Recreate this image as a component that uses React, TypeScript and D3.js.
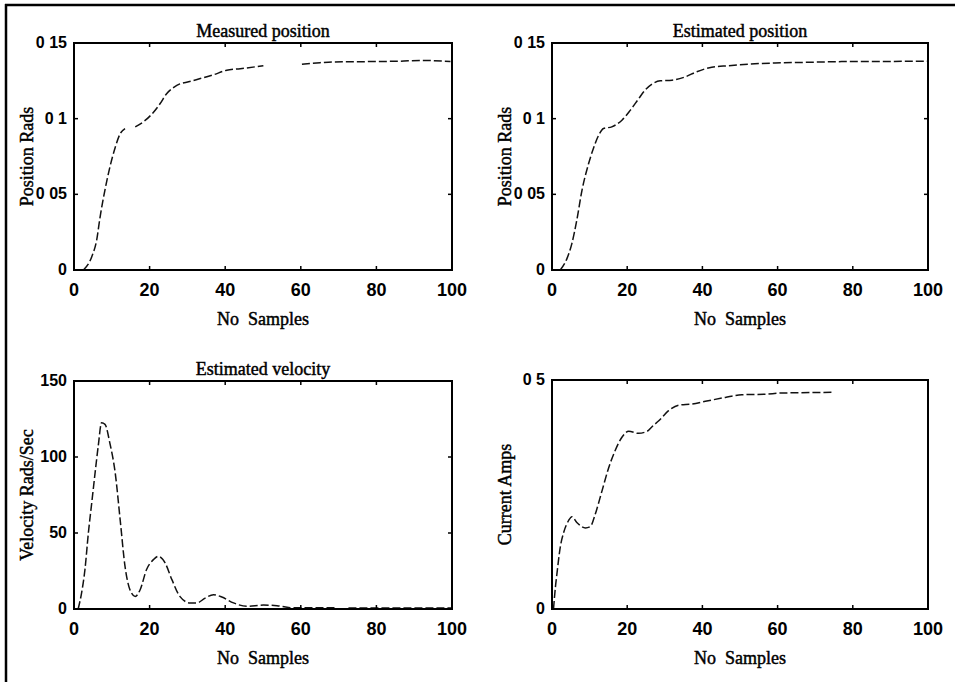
import React from 'react';
import * as d3 from 'd3';

// ---------- data ----------
const xTickValues = [0, 20, 40, 60, 80, 100];
const xTickLabels = ['0', '20', '40', '60', '80', '100'];

const posTickValues = [0, 0.05, 0.1, 0.15];
const posTickLabels = ['0', '0 05', '0 1', '0 15'];

const velTickValues = [0, 50, 100, 150];
const velTickLabels = ['0', '50', '100', '150'];

const curTickValues = [0, 0.5];
const curTickLabels = ['0', '0 5'];

const measuredX = [2.5, 4.7, 6, 6.9, 8.2, 9.5, 10.9, 12.2, 13.5, 14.8, 16.2, 18.4, 20.6, 22.8, 24.5, 26.3, 28, 29.8, 33.4, 36.9, 40.4, 44, 50.1, 55, 60.3, 65.1, 68.7, 77.5, 86.3, 91.6, 99.6];
const measuredY: (number | null)[] = [0, 0.0088, 0.0198, 0.035, 0.053, 0.068, 0.081, 0.09, 0.0935, null, 0.0946, 0.098, 0.103, 0.11, 0.1165, 0.1205, 0.123, 0.124, 0.1265, 0.129, 0.132, 0.133, 0.135, null, 0.136, 0.137, 0.1375, 0.1377, 0.138, 0.1385, 0.1377];

const estimatedX = [2.2, 4, 5.3, 6.6, 8, 9.7, 11.1, 12.4, 13.7, 15.9, 18.6, 20.8, 23, 24.8, 26.5, 28.8, 31.9, 35.4, 38.5, 42.5, 46.9, 52.2, 59.3, 67.3, 77, 100];
const estimatedY = [0, 0.0077, 0.0176, 0.033, 0.053, 0.07, 0.081, 0.089, 0.0935, 0.0946, 0.099, 0.1055, 0.113, 0.119, 0.1227, 0.125, 0.1254, 0.1276, 0.131, 0.134, 0.135, 0.136, 0.1368, 0.1372, 0.1377, 0.1379];

const velocityX = [1.1, 2, 2.9, 3.8, 4.7, 5.6, 6.4, 7.3, 8.2, 9.5, 10.9, 12.2, 13.5, 14.8, 16.2, 17.5, 19.2, 21, 22.3, 24.1, 25.9, 28, 30.7, 32.5, 34.7, 36.9, 39.1, 42.2, 45.7, 50.1, 53.7, 57.2, 61.6, 69.5, 71, 72.6, 100];
const velocityY: (number | null)[] = [0, 10.5, 26, 50, 70, 90, 107, 122.5, 121.5, 109, 89.6, 59, 28, 12.7, 8.3, 12.7, 26, 32.5, 34.7, 30.3, 19.3, 8.3, 4, 4, 7.2, 9.4, 7.9, 4, 1.8, 2.6, 2.2, 0.9, 0.9, 0.9, null, 0.6, 0.6];

const currentX = [0.4, 0.9, 1.3, 2.2, 3.1, 4.4, 5.3, 6.6, 8.9, 10.2, 11.5, 13.3, 15.1, 16.8, 18.6, 20.4, 23, 25.3, 26.6, 28.4, 31, 33.7, 37.2, 40.8, 46.1, 50.5, 56.7, 61.2, 74.5];
const currentY = [0, 0.047, 0.076, 0.135, 0.167, 0.193, 0.2016, 0.189, 0.177, 0.18, 0.207, 0.258, 0.309, 0.346, 0.375, 0.388, 0.3835, 0.388, 0.398, 0.411, 0.433, 0.445, 0.4476, 0.4534, 0.462, 0.4677, 0.469, 0.4716, 0.473];

const SERIF = "'Liberation Serif', 'Times New Roman', serif";
const TICKFONT = "'Liberation Sans Narrow', 'Liberation Sans', Arial, sans-serif";

type PanelProps = {
  left: number; right: number; top: number; bottom: number;
  yDomain: [number, number];
  yTicks: number[]; yLabels: string[];
  title?: string; ylabel: string;
  xs: number[]; ys: (number | null)[];
};

function Panel(p: PanelProps) {
  const x = d3.scaleLinear().domain([0, 100]).range([p.left, p.right]);
  const y = d3.scaleLinear().domain(p.yDomain).range([p.bottom, p.top]);
  const pts = p.xs.map((v, i) => [v, p.ys[i]] as [number, number | null]);
  const line = d3.line<[number, number | null]>()
    .defined(d => d[1] !== null)
    .x(d => x(d[0]))
    .y(d => y(d[1] as number))
    .curve(d3.curveMonotoneX);
  const tl = 4;
  const cx = (p.left + p.right) / 2;
  const cy = (p.top + p.bottom) / 2;
  const serifStyle = { stroke: '#000', strokeWidth: 0.45 };
  return (
    <g>
      <path d={line(pts) || ''} fill="none" stroke="#111" strokeWidth={1.5} strokeDasharray="8,3" />
      <rect x={p.left} y={p.top} width={p.right - p.left} height={p.bottom - p.top} fill="none" stroke="#000" strokeWidth={2} />
      {xTickValues.slice(1, -1).map(v => (
        <g key={'xt' + v}>
          <line x1={x(v)} x2={x(v)} y1={p.bottom} y2={p.bottom - tl} stroke="#000" strokeWidth={1.5} />
          <line x1={x(v)} x2={x(v)} y1={p.top} y2={p.top + tl} stroke="#000" strokeWidth={1.5} />
        </g>
      ))}
      {p.yTicks.slice(1, -1).map(v => (
        <g key={'yt' + v}>
          <line x1={p.left} x2={p.left + tl} y1={y(v)} y2={y(v)} stroke="#000" strokeWidth={1.5} />
          <line x1={p.right} x2={p.right - tl} y1={y(v)} y2={y(v)} stroke="#000" strokeWidth={1.5} />
        </g>
      ))}
      {xTickValues.map((v, i) => (
        <text key={'xl' + v} x={x(v)} y={p.bottom + 26} textAnchor="middle" fontFamily={TICKFONT} fontWeight="bold" fontSize={18} fill="#000">{xTickLabels[i]}</text>
      ))}
      {p.yTicks.map((v, i) => (
        <text key={'yl' + v} x={p.left - 7} y={y(v) + 5} textAnchor="end" fontFamily={TICKFONT} fontWeight="bold" fontSize={16} fill="#000" style={{ whiteSpace: 'pre' }}>{p.yLabels[i]}</text>
      ))}
      {p.title && (
        <text x={cx} y={p.top - 6} textAnchor="middle" fontFamily={SERIF} fontSize={18} fill="#000" style={serifStyle}>{p.title}</text>
      )}
      <text x={cx} y={p.bottom + 55} textAnchor="middle" fontFamily={SERIF} fontSize={18} fill="#000" style={{ ...serifStyle, whiteSpace: 'pre' }}>{'No  Samples'}</text>
      <text transform={`translate(${p.left - 41},${cy}) rotate(-90)`} textAnchor="middle" fontFamily={SERIF} fontSize={18} fill="#000" style={serifStyle}>{p.ylabel}</text>
    </g>
  );
}

export default function App() {
  return (
    <svg width={955} height={682} style={{ position: 'absolute', left: 0, top: 0, background: '#fff' }}>
      <rect x={0} y={0} width={955} height={682} fill="#fff" />
      <line x1={5} x2={955} y1={5} y2={5} stroke="#000" strokeWidth={2.5} />
      <line x1={6} x2={6} y1={4} y2={682} stroke="#000" strokeWidth={2.5} />
      <Panel left={74} right={452} top={43} bottom={270} yDomain={[0, 0.15]} yTicks={posTickValues} yLabels={posTickLabels}
        title="Measured position" ylabel="Position Rads" xs={measuredX} ys={measuredY} />
      <Panel left={552} right={928} top={43} bottom={270} yDomain={[0, 0.15]} yTicks={posTickValues} yLabels={posTickLabels}
        title="Estimated position" ylabel="Position Rads" xs={estimatedX} ys={estimatedY} />
      <Panel left={74} right={452} top={381} bottom={609} yDomain={[0, 150]} yTicks={velTickValues} yLabels={velTickLabels}
        title="Estimated velocity" ylabel="Velocity Rads/Sec" xs={velocityX} ys={velocityY} />
      <Panel left={552} right={928} top={380} bottom={609} yDomain={[0, 0.5]} yTicks={curTickValues} yLabels={curTickLabels}
        ylabel="Current Amps" xs={currentX} ys={currentY} />
    </svg>
  );
}
